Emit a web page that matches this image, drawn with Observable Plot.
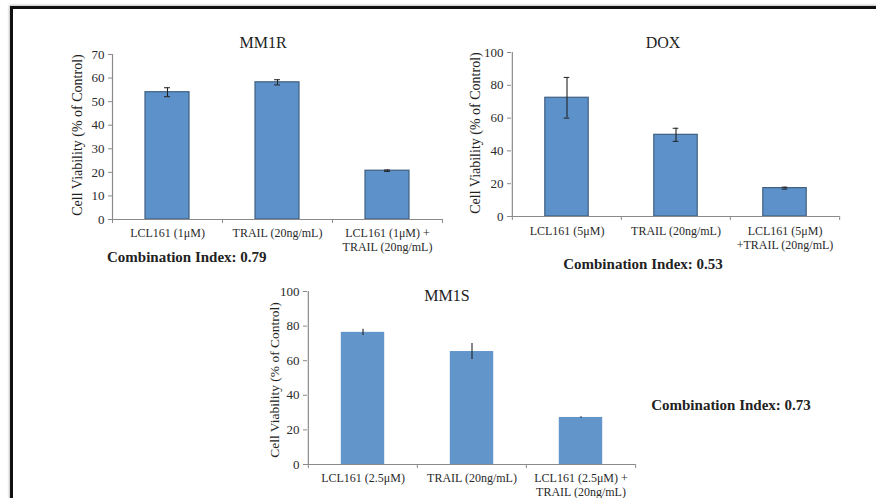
<!DOCTYPE html>
<html><head><meta charset="utf-8">
<script src="https://cdn.jsdelivr.net/npm/d3@7"></script>
<script src="https://cdn.jsdelivr.net/npm/@observablehq/plot@0.6"></script>
<style>
body{margin:0;background:#fff;}
#wrap{position:relative;width:876px;height:498px;overflow:hidden;font-family:"Liberation Serif","Times New Roman",serif;color:#222;background:#fff;}
.frame{position:absolute;left:10px;top:6px;width:900px;height:520px;border-left:3px solid #111;border-top:3px solid #111;box-shadow:-1px -1px 2px rgba(0,0,0,0.25);}
.lbl{position:absolute;transform:translate(-50%,-50%);white-space:nowrap;font-family:"Liberation Serif","Times New Roman",serif;}
.title{font-size:16px;}
.ylab{font-size:14px;transform:translate(-50%,-50%) rotate(-90deg);}
.ylab.small{font-size:13.5px;}
.ci{font-size:15px;font-weight:bold;}
.panel{position:absolute;}
svg text{font-family:"Liberation Serif","Times New Roman",serif;}
</style>
</head><body>
<div id="wrap">
  <div class="frame"></div>
</div>
<script>
// ---- data ----
const mm1rCategories = ["LCL161 (1μM)", "TRAIL (20ng/mL)", "LCL161 (1μM) +\nTRAIL (20ng/mL)"];
const mm1rValues = [54.0, 58.2, 20.7];
const mm1rErrors = [1.9, 1.1, 0.3];
const mm1rTicks = [0, 10, 20, 30, 40, 50, 60, 70];

const doxCategories = ["LCL161 (5μM)", "TRAIL (20ng/mL)", "LCL161 (5μM)\n+TRAIL (20ng/mL)"];
const doxValues = [72.4, 49.8, 17.3];
const doxErrors = [12.4, 4.0, 0.6];
const doxTicks = [0, 20, 40, 60, 80, 100];

const mm1sCategories = ["LCL161 (2.5μM)", "TRAIL (20ng/mL)", "LCL161 (2.5μM) +\nTRAIL (20ng/mL)"];
const mm1sValues = [76.4, 65.3, 27.2];
const mm1sErrors = [1.8, 4.6, 0.4];
const mm1sTicks = [0, 20, 40, 60, 80, 100];

const panelTitles = ["MM1R", "DOX", "MM1S"];
const yLabel = "Cell Viability (% of Control)";
const combinationIndex = ["Combination Index: 0.79", "Combination Index: 0.53", "Combination Index: 0.73"];

const axisColor = "#8a8a8a";
const textColor = "#2a2a2a";
const serif = '"Liberation Serif", "Times New Roman", serif';

function panel(cfg) {
  const data = cfg.categories.map((c, i) => ({cat: c, value: cfg.values[i], err: cfg.errors[i]}));
  const ymax = cfg.ticks[cfg.ticks.length - 1];
  const plotW = cfg.width - cfg.marginLeft - cfg.marginRight;
  const plotH = cfg.height - cfg.marginTop - cfg.marginBottom;
  const step = plotW / cfg.categories.length;
  const inset = step * 0.3;
  const marks = [
    Plot.barY(data, {x: "cat", y: "value", fill: cfg.fill, stroke: cfg.stroke, strokeWidth: cfg.stroke ? 1.2 : 0, insetLeft: inset, insetRight: inset}),
    Plot.ruleX(data, {x: "cat", y1: d => d.value - d.err, y2: d => d.value + d.err, stroke: "#222", strokeWidth: 1.1}),
  ];
  if (cfg.caps) {
    marks.push(
      Plot.tickY(data, {x: "cat", y: d => d.value + d.err, stroke: "#222", inset: step / 2 - 3}),
      Plot.tickY(data, {x: "cat", y: d => d.value - d.err, stroke: "#222", inset: step / 2 - 3})
    );
  }
  marks.push(
    Plot.ruleY([0], {stroke: axisColor, strokeWidth: 1.2}),
    Plot.ruleX([cfg.categories[0]], {x: d => d, y1: 0, y2: ymax, dx: -step / 2, stroke: axisColor, strokeWidth: 1.2}),
    Plot.ruleX(cfg.categories, {x: d => d, dx: -step / 2, insetTop: plotH, insetBottom: -4, stroke: axisColor}),
    Plot.ruleX([cfg.categories[cfg.categories.length - 1]], {x: d => d, dx: step / 2, insetTop: plotH, insetBottom: -4, stroke: axisColor}),
    Plot.axisY({ticks: cfg.ticks, tickSize: 4, tickPadding: 4, fontSize: 13, fontFamily: serif, label: null, stroke: axisColor, fill: textColor, tickFormat: d => String(d)}),
    Plot.axisX({tickSize: 0, tickPadding: cfg.xPad, fontSize: 12, fontFamily: serif, lineHeight: 1.15, label: null, fill: textColor})
  );
  return Plot.plot({
    width: cfg.width,
    height: cfg.height,
    marginLeft: cfg.marginLeft,
    marginRight: cfg.marginRight,
    marginTop: cfg.marginTop,
    marginBottom: cfg.marginBottom,
    style: {fontFamily: serif, background: "transparent", overflow: "visible", color: textColor},
    x: {type: "band", domain: cfg.categories, padding: 0, axis: null},
    y: {domain: [0, ymax], nice: false, axis: null},
    marks
  });
}

const wrap = document.getElementById("wrap");
function place(el, left, top) {
  const d = document.createElement("div");
  d.className = "panel";
  d.style.left = left + "px";
  d.style.top = top + "px";
  d.appendChild(el);
  wrap.appendChild(d);
}
function label(text, cls, x, y, align) {
  const d = document.createElement("div");
  d.className = "lbl " + cls;
  d.textContent = text;
  d.style.left = x + "px";
  d.style.top = y + "px";
  if (align === "left") d.style.transform = "translate(0,-50%)";
  wrap.appendChild(d);
}

place(panel({categories: mm1rCategories, values: mm1rValues, errors: mm1rErrors, ticks: mm1rTicks,
  width: 450, height: 262, marginLeft: 112, marginRight: 8, marginTop: 54, marginBottom: 43,
  fill: "#5d91c9", stroke: "#3f5f82", caps: true, xPad: 8}), 0, 0);
place(panel({categories: doxCategories, values: doxValues, errors: doxErrors, ticks: doxTicks,
  width: 426, height: 262, marginLeft: 61, marginRight: 37, marginTop: 52, marginBottom: 46,
  fill: "#5d91c9", stroke: "#3f5f82", caps: true, xPad: 9}), 450, 0);
place(panel({categories: mm1sCategories, values: mm1sValues, errors: mm1sErrors, ticks: mm1sTicks,
  width: 460, height: 236, marginLeft: 107, marginRight: 25, marginTop: 29, marginBottom: 34,
  fill: "#6295ca", stroke: null, caps: false, xPad: 8}), 200, 262);

label(panelTitles[0], "title", 263, 43);
label(panelTitles[1], "title", 663, 43);
label(panelTitles[2], "title", 447, 296);
label(yLabel, "ylab", 78, 135);
label(yLabel, "ylab", 476, 133);
label(yLabel, "ylab small", 275, 380);
label(combinationIndex[0], "ci", 107, 257, "left");
label(combinationIndex[1], "ci", 643, 264);
label(combinationIndex[2], "ci", 731, 405);
</script>
</body></html>
